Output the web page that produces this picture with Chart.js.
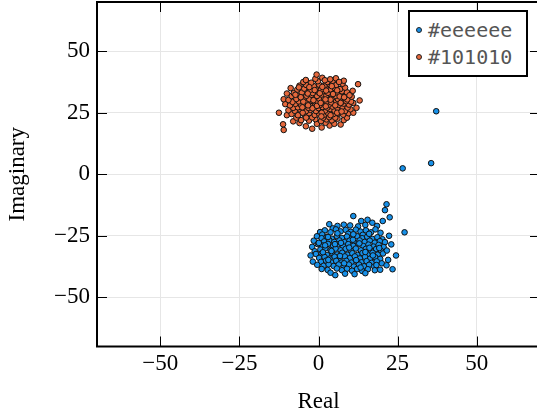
<!DOCTYPE html>
<html>
<head>
<meta charset="utf-8">
<script src="https://cdn.jsdelivr.net/npm/chart.js@4/dist/chart.umd.min.js"></script>
<style>
  html, body { margin: 0; padding: 0; overflow: hidden; background: #fff; }
  #wrap { position: relative; width: 540px; height: 420px; }
  #legend {
    position: absolute; left: 408px; top: 10px; width: 120px; height: 67px;
    box-sizing: border-box; border: 2px solid #000; background: #fff;
    font-family: "DejaVu Sans Mono", monospace; font-size: 20px; color: #555;
  }
  #legend .mk { position: absolute; left: 6px; width: 4px; height: 4px; border: 1px solid #222; border-radius: 50%; }
  #legend .tx { position: absolute; left: 18px; line-height: 24px; }
</style>
</head>
<body>
<div id="wrap">
  <canvas id="chart" width="540" height="420"></canvas>
  <div id="legend"></div>
</div>
<script>
// ticks
const xTicks = [-50, -25, 0, 25, 50];
const yTicks = [-50, -25, 0, 25, 50];
const seriesLabels = ['#eeeeee', '#101010'];
const seriesColors = ['#1790e8', '#e5683c'];

// series 1 (blue) – [real, imaginary]
const blueSeries = [
  [3.4,-20.3],[11,-17],[13.5,-19],[15.5,-18.5],[17,-19.7],[8,-20.5],[6,-21],[10,-20.8],[12.5,-21.2],[14.8,-20.6],[18.5,-21],[4.5,-22],
  [21.5,-12.2],[21,-14.6],[22.5,-17.5],[20.3,-19],[27.2,-23.6],[23,-28.5],[23.4,-38.6],[5.3,-41],[37.2,25.6],[26.6,2.4],[35.6,4.5],[24.5,-33],
  [0.5,-23.5],[2,-22.8],[3.8,-23.6],[5.5,-22.4],[7,-23.2],[8.6,-22.6],[10.2,-23.4],[11.8,-22.5],[13.3,-23.3],[15,-22.8],[16.6,-23.6],[18,-22.4],[19.6,-23.8],[1.2,-24.5],[9.4,-24.2],[14,-24.6],
  [-0.5,-25.2],[1,-26],[2.6,-25.4],[4.2,-26.2],[5.8,-25.1],[7.4,-25.9],[9,-25.3],[10.6,-26.1],[12.2,-25.2],[13.8,-26],[15.4,-25.4],[17,-26.3],[18.6,-25.6],[20.2,-26.4],
  [-1.5,-27],[1.8,-27.3],[3.4,-26.8],[5,-27.5],[6.6,-26.9],[8.2,-27.6],[9.8,-27],[11.4,-27.7],[13,-26.9],[14.6,-27.5],[16.2,-27],[17.8,-27.8],[19.4,-27.2],[21,-27.6],
  [-2,-29.5],[-0.2,-28.4],[1.4,-29],[3,-28.3],[4.6,-29.2],[6.2,-28.5],[7.8,-29.3],[9.4,-28.4],[11,-29.1],[12.6,-28.3],[14.2,-29.2],[15.8,-28.6],[17.4,-29.4],[19,-28.7],[20.6,-29.6],
  [0.6,-30.6],[2.2,-30.1],[3.8,-30.8],[5.4,-30.2],[7,-30.9],[8.6,-30.3],[10.2,-31],[11.8,-30.2],[13.4,-30.9],[15,-30.3],[16.6,-31.1],[18.2,-30.4],[19.8,-31.2],[-1.2,-31.3],
  [-0.8,-32.4],[1,-32.2],[2.7,-32.8],[4.3,-32],[5.9,-32.6],[7.5,-31.9],[9.1,-32.7],[10.7,-32.1],[12.3,-32.8],[13.9,-32],[15.5,-32.6],[17.1,-31.9],[18.7,-32.7],[20.4,-32.2],
  [0.2,-34],[1.9,-33.6],[3.5,-34.3],[5.1,-33.5],[6.7,-34.2],[8.3,-33.4],[9.9,-34.1],[11.5,-33.4],[13.1,-34.2],[14.7,-33.6],[16.3,-34.3],[17.9,-33.7],[19.5,-34.4],
  [0.8,-35.6],[2.4,-35.1],[4,-35.8],[5.6,-35.2],[7.2,-35.9],[8.8,-35.2],[10.4,-35.9],[12,-35.1],[13.6,-35.8],[15.2,-35.3],[16.8,-36],[18.4,-35.4],[20,-36.2],
  [-0.4,-36.8],[1.6,-37.2],[3.2,-36.6],[4.8,-37.3],[6.4,-36.7],[8,-37.4],[9.6,-36.7],[11.2,-37.5],[12.8,-36.7],[14.4,-37.4],[16,-36.8],[17.6,-37.5],[21.5,-37],
  [1,-38.5],[2.9,-38.9],[5.8,-38.3],[7.4,-39],[9,-38.4],[10.6,-39.2],[12.2,-38.5],[13.8,-39.3],[15.6,-38.6],[17.8,-39],[3.8,-40],[8.4,-40.4],[11.4,-40.6],[14.8,-40.2],[19.5,-38.8],
  [7.1,-27.9],[12.9,-28.1],[4.1,-31.2],[9.7,-29.8],[14.8,-31.6],[6.8,-33.2],[11.9,-34.9],[3.1,-34.8],[17.2,-33],[8.1,-36.2],[13.3,-37.9],[5.2,-28.4],
  [10.9,-26.6],[16.1,-29.9],[2.1,-28.9],[18.3,-36.9],[1.4,-31.7],[19.2,-30],[0.1,-27.9],[-2.5,-33],[-1.8,-35.5],[22,-34.8],[21.6,-31],[22.3,-25],
  [6,-24],[11,-24.4],[16,-24.2],[3,-25.5]
];

// series 2 (orange) – [real, imaginary]
const orangeSeries = [
  [-11,18],[-11.2,20.3],[-4,19.5],[-2,18.5],[1,19],[3.5,19.8],[5,20.5],[-6,20.8],[7,20.2],[-0.5,20.5],[2.2,20.9],
  [-8,21.5],[-5.5,22],[-3,21.8],[-1,22.4],[0.8,21.6],[2.5,22.3],[4.2,21.9],[6,22.6],[8,22],[-7,23],[-2,23.1],[1.5,23],[3.4,23.2],[5.3,23],[9,23],
  [-10,24],[-8.5,24.5],[-6.5,24],[-4.5,24.3],[-3,24.8],[-1.2,24.1],[0.2,24.6],[1.8,24.2],[3,24.9],[4.6,24.4],[6.2,24.7],[7.8,24.2],[9.5,24.8],[11,25],[-12.5,25],
  [-9.5,26],[-7.5,25.8],[-5.8,26.3],[-4,25.6],[-2.5,26.2],[-0.8,25.7],[0.6,26.4],[2.1,25.9],[3.7,26.5],[5.1,25.8],[6.8,26.2],[8.4,25.7],[10.1,26.4],
  [-8,27],[-6.5,27.2],[-3.2,27],[-1.6,27.4],[0,26.9],[1.3,27.3],[2.8,27.1],[4.4,27.5],[6,27],[7.5,27.4],[9.2,27.1],[12,27],
  [-10.5,28.5],[-9,28],[-7.3,28.6],[-5.5,28.1],[-4.2,28.8],[-2.8,28.2],[-1,28.7],[0.4,28.1],[1.9,28.8],[3.3,28.3],[4.9,28.9],[6.4,28.2],[8,28.7],[9.6,28.3],[11,29],
  [-8.2,29.4],[-6.2,29.6],[-3.6,29.3],[-2,29.8],[-0.3,29.4],[1.2,29.9],[2.6,29.5],[4,29.2],[5.6,29.8],[7.2,29.3],[8.8,29.7],[10.3,29.5],[13,30],
  [-11,30.5],[-9.5,30.2],[-7,30.6],[-5,30.3],[-4.4,31],[-2.9,30.5],[-1.3,31.1],[0.3,30.6],[1.7,31.2],[3.1,30.7],[4.7,31.3],[6.1,30.6],[7.6,31.1],[9.1,30.4],[10.5,31.5],
  [-8.5,31.8],[-6,32],[-3.8,31.9],[-2.1,32.3],[-0.5,31.8],[1,32.4],[2.5,32],[3.9,32.5],[5.4,31.9],[6.9,32.3],[8.3,32],[-10,32.8],
  [-7.8,33],[-5.3,33.2],[-3.5,33.6],[-1.8,33],[0,33.4],[1.5,33.8],[3,33.1],[4.4,33.7],[6,33.2],[7.4,33.7],[9,33.3],[10.8,33.9],
  [-6.7,34.4],[-4.5,34.8],[-2.6,34.3],[-0.9,34.9],[0.8,34.4],[2.3,35],[3.8,34.5],[5.2,35],[6.8,34.6],[8.4,35.2],[-8.8,35],
  [-6,36],[-3.9,36.3],[-1.5,35.8],[0.2,36.4],[1.9,36],[3.5,36.6],[5.6,36.3],[7.6,36.8],[12.5,36.6],
  [-4.8,37.5],[-2.3,37.2],[-0.2,37.8],[2.8,37.5],[4.5,38],[-1,38.8],[1.2,39.2],[5.5,39],[-0.6,40.5],[8,38],
  [-5,25],[-1.9,26.8],[1,25],[3.8,24],[5.9,25],[-3.3,28],[-0.5,27.8],[2.3,27.6],[5.3,28],[7,29],[-4.8,29.5],[0.7,29],
  [3.8,30.3],[6.7,31.6],[-1.6,30.1],[2.2,30.4],[-3.4,32.8],[0.4,32.9],[4.6,32.6],[8.1,31.3],[-5.6,31.3],[-1.2,34.2],[2.4,34],[5.9,34.1],
  [-2.9,35.4],[1.2,35.5],[4.2,35.8],[-7.3,32.3],[9.8,32.1],[-5.1,27.2],[7.3,25.5],[-3.9,23],[0.9,23.5],[-6.2,35.3],[3.7,38.6],[6.5,37.5],[-4,38.3],[2,38.2]
];

const toPoints = arr => arr.map(p => ({ x: p[0], y: p[1] }));
const fmt = v => (v < 0 ? '\u2212' + Math.abs(v) : String(v));
const serif = { family: 'Liberation Serif', size: 23 };

// pgfplots style frame: box with inward ticks on all sides
const framePlugin = {
  id: 'frame',
  afterDatasetsDraw(chart) {
    const { ctx, chartArea: a, scales: { x, y } } = chart;
    const len = 10;
    ctx.save();
    ctx.strokeStyle = '#000';
    ctx.lineWidth = 1;
    ctx.beginPath();
    x.ticks.forEach(t => {
      const px = Math.round(x.getPixelForValue(t.value)) + 0.5;
      ctx.moveTo(px, a.bottom); ctx.lineTo(px, a.bottom - len);
      ctx.moveTo(px, a.top); ctx.lineTo(px, a.top + len);
    });
    y.ticks.forEach(t => {
      const py = Math.round(y.getPixelForValue(t.value)) + 0.5;
      ctx.moveTo(a.left, py); ctx.lineTo(a.left + len, py);
      ctx.moveTo(a.right, py); ctx.lineTo(a.right - len, py);
    });
    ctx.stroke();
    ctx.lineWidth = 2;
    ctx.strokeRect(a.left, a.top, a.right - a.left, a.bottom - a.top);
    ctx.restore();
  }
};

new Chart(document.getElementById('chart'), {
  type: 'scatter',
  data: {
    datasets: [
      { label: seriesLabels[0], data: toPoints(blueSeries), backgroundColor: seriesColors[0], borderColor: '#111', borderWidth: 1, pointRadius: 2.8 },
      { label: seriesLabels[1], data: toPoints(orangeSeries), backgroundColor: seriesColors[1], borderColor: '#111', borderWidth: 1, pointRadius: 2.8 },
    ],
  },
  options: {
    responsive: false,
    animation: false,
    layout: { autoPadding: false, padding: { top: 2, right: 0, left: 0, bottom: 0 } },
    plugins: { legend: { display: false }, tooltip: { enabled: false } },
    scales: {
      x: {
        type: 'linear', min: -70, max: 70,
        afterBuildTicks: s => { s.ticks = xTicks.map(v => ({ value: v })); },
        afterFit: s => { s.height = 73.5; s.paddingLeft = 0; s.paddingRight = 0; },
        grid: { color: '#e6e6e6', drawTicks: false },
        border: { display: false },
        ticks: { padding: 4, color: '#000', font: serif, callback: fmt },
        title: { display: true, text: 'Real', color: '#000', font: serif, padding: { top: 0, bottom: 4 } },
      },
      y: {
        type: 'linear', min: -70, max: 70,
        afterBuildTicks: s => { s.ticks = yTicks.map(v => ({ value: v })); },
        afterFit: s => { s.width = 97; s.paddingTop = 0; s.paddingBottom = 0; },
        grid: { color: '#e6e6e6', drawTicks: false },
        border: { display: false },
        ticks: { padding: 7, color: '#000', font: serif, callback: fmt },
        title: { display: true, text: 'Imaginary', color: '#000', font: serif, padding: { top: 4, bottom: 0 } },
      },
    },
  },
  plugins: [framePlugin],
});

// legend
const legend = document.getElementById('legend');
seriesLabels.forEach((lab, i) => {
  const mk = document.createElement('span');
  mk.className = 'mk';
  mk.style.top = (15 + i * 27) + 'px';
  mk.style.background = seriesColors[i];
  legend.appendChild(mk);
  const tx = document.createElement('span');
  tx.className = 'tx';
  tx.style.top = (6 + i * 27) + 'px';
  tx.textContent = lab;
  legend.appendChild(tx);
});
</script>
</body>
</html>
